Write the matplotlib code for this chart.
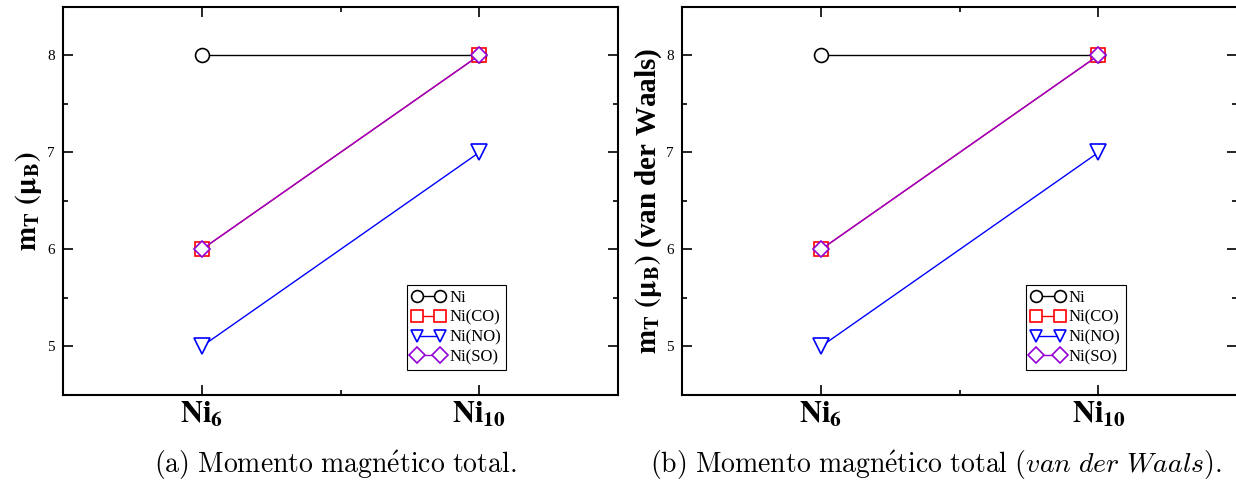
import numpy as np
import matplotlib
matplotlib.use("Agg")
import matplotlib.pyplot as plt
from matplotlib.ticker import MultipleLocator

plt.rcParams['font.family'] = ['Liberation Serif', 'DejaVu Serif']
plt.rcParams['mathtext.fontset'] = 'stix'

# clusters on the x axis
clusters = [r'$\mathbf{Ni}_{\mathbf{6}}$', r'$\mathbf{Ni}_{\mathbf{10}}$']

# total magnetic moment (mu_B), standard calculation
ni = [8, 8]
ni_co = [6, 8]
ni_no = [5, 7]
ni_so = [6, 8]

# same quantities with van der Waals correction
ni_vdw = [8, 8]
ni_co_vdw = [6, 8]
ni_no_vdw = [5, 7]
ni_so_vdw = [6, 8]

labels = ['Ni', 'Ni(CO)', 'Ni(NO)', 'Ni(SO)']
colors = ['black', 'red', 'blue', '#9400d3']
markers = ['o', 's', 'v', 'D']
msizes = [10, 9.5, 11, 8.5]


def draw_panel(ax, series, ylabel):
    x = np.arange(len(clusters))
    for vals, lab, c, m, ms in zip(series, labels, colors, markers, msizes):
        ax.plot(x, vals, color=c, lw=1.0, marker=m, ms=ms, mfc='white',
                mec=c, mew=1.2, label=lab)
    ax.set_xlim(-0.5, 1.5)
    ax.set_ylim(4.5, 8.5)
    ax.set_xticks(x)
    ax.set_xticklabels(clusters, fontsize=22)
    ax.xaxis.set_minor_locator(MultipleLocator(0.5))
    ax.yaxis.set_major_locator(MultipleLocator(1))
    ax.yaxis.set_minor_locator(MultipleLocator(0.5))
    ax.tick_params(which='both', direction='in', top=True, right=True,
                   width=1.2)
    ax.tick_params(which='major', length=7)
    ax.tick_params(which='minor', length=3.5)
    ax.tick_params(axis='y', labelsize=11, pad=6)
    ax.tick_params(axis='x', pad=4)
    for s in ax.spines.values():
        s.set_linewidth(1.5)
    ax.set_ylabel(ylabel, fontsize=21, fontweight='bold', labelpad=2)
    leg = ax.legend(loc='lower left', bbox_to_anchor=(0.62, 0.064),
                    numpoints=2, fontsize=12, handlelength=2.0,
                    handletextpad=0.25, borderpad=0.3, labelspacing=0.22,
                    fancybox=False, framealpha=1, edgecolor='black',
                    borderaxespad=0)
    leg.get_frame().set_linewidth(0.8)
    for h in leg.legend_handles:
        h.set_markersize(8.5)


fig = plt.figure(figsize=(12.36, 4.87), dpi=100)
ax1 = fig.add_axes([0.051, 0.189, 0.449, 0.797])
ax2 = fig.add_axes([0.552, 0.189, 0.449, 0.797])

draw_panel(ax1, [ni, ni_co, ni_no, ni_so],
           r'$\mathbf{m}_{\mathbf{T}}\ \mathbf{(\mu}_{\mathbf{B}}\mathbf{)}$')
draw_panel(ax2, [ni_vdw, ni_co_vdw, ni_no_vdw, ni_so_vdw],
           r'$\mathbf{m}_{\mathbf{T}}\ \mathbf{(\mu}_{\mathbf{B}}\mathbf{)}$ (van der Waals)')

fig.text(0.271, 0.045,
         r'$\mathrm{(a)\ Momento\ magn\acute{e}tico\ total.}$',
         ha='center', va='center', fontsize=20, math_fontfamily='cm')
fig.text(0.757, 0.045,
         r'$\mathrm{(b)\ Momento\ magn\acute{e}tico\ total\ (}'
         r'\mathit{van\ der\ Waals}\mathrm{).}$',
         ha='center', va='center', fontsize=20, math_fontfamily='cm')

fig.savefig('out.png', dpi=100)
